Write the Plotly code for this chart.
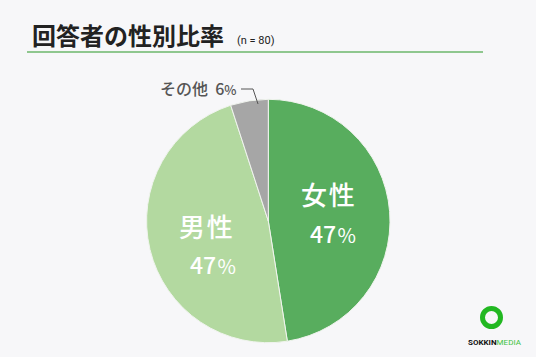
import plotly.graph_objects as go

# Data
categories = ["女性", "男性", "その他"]
counts = [38, 38, 4]
pct_labels = ["47", "47", "6"]
colors = ["#58ad5e", "#b3d9a0", "#a6a6a6"]

title_text = "回答者の性別比率"
n_text = "(n = 80)"

W, H = 536, 357
FONT = "Noto Sans CJK JP"

cx, cy, r = 268.3, 221.0, 121.7

def px(x):
    return x / W

def py(y):
    return 1 - y / H

fig = go.Figure()
fig.add_trace(go.Pie(
    labels=categories,
    values=counts,
    sort=False,
    direction="clockwise",
    rotation=0,
    marker=dict(colors=colors, line=dict(color="#f0f4ee", width=1)),
    textinfo="none",
    hoverinfo="label+percent",
    showlegend=False,
    domain=dict(x=[px(cx - r), px(cx + r)], y=[py(cy + r), py(cy - r)]),
))

annotations = []
# Title
annotations.append(dict(x=px(30), y=py(35), xref="paper", yref="paper", xanchor="left", yanchor="middle",
                        text=f"<b>{title_text}</b>", showarrow=False,
                        font=dict(family=FONT, size=24, color="#222222")))
annotations.append(dict(x=px(235), y=py(40), xref="paper", yref="paper", xanchor="left", yanchor="middle",
                        text=n_text, showarrow=False,
                        font=dict(family="Roboto", size=11, color="#222222")))

# Inside labels
inside = [
    (categories[0], pct_labels[0], 328, 193, 333, 233),
    (categories[1], pct_labels[1], 205.5, 225, 213, 264),
]
for name, pct, nx, ny, vx, vy in inside:
    annotations.append(dict(x=px(nx), y=py(ny), xref="paper", yref="paper", xanchor="center", yanchor="middle",
                            text=name.replace("", "\u200a").strip("\u200a"), showarrow=False,
                            font=dict(family=FONT, size=26, color="white", weight=500)))
    annotations.append(dict(x=px(vx), y=py(vy), xref="paper", yref="paper", xanchor="center", yanchor="middle",
                            text=f"{pct}<span style='font-size:20px;font-weight:400'>\u200a%</span>", showarrow=False,
                            font=dict(family=FONT, size=23, color="white", weight=500)))

# Outside label for その他
annotations.append(dict(x=px(239), y=py(88), xref="paper", yref="paper", xanchor="right", yanchor="middle",
                        text=f"{categories[2]}  {pct_labels[2]}<span style='font-size:13px'>%</span>", showarrow=False,
                        font=dict(family=FONT, size=16, color="#555555", weight=500)))

# Logo text
annotations.append(dict(x=px(495), y=py(342), xref="paper", yref="paper", xanchor="center", yanchor="middle",
                        text="<b>SOKKIN</b><span style='color:#3cc23c'>MEDIA</span>", showarrow=False,
                        font=dict(family="Roboto", size=8, color="#111111")))

shapes = [
    # title underline
    dict(type="line", xref="paper", yref="paper", x0=px(27), x1=px(483), y0=py(52), y1=py(52),
         line=dict(color="#8fc78f", width=2)),
    # leader line
    dict(type="path", xref="paper", yref="paper",
         path=f"M {px(241)} {py(89)} L {px(253)} {py(89)} L {px(258)} {py(104)}",
         line=dict(color="#555555", width=1)),
    # logo ring
    dict(type="circle", xref="paper", yref="paper",
         x0=px(482.5), x1=px(500.5), y0=py(326.5), y1=py(308.5),
         line=dict(color="#22b822", width=5)),
]

fig.update_layout(
    width=W, height=H, autosize=False,
    margin=dict(l=0, r=0, t=0, b=0),
    paper_bgcolor="#f7f7f9",
    plot_bgcolor="#f7f7f9",
    annotations=annotations,
    shapes=shapes,
)

fig.write_html("out.html", config={"displayModeBar": False},
               post_script="document.body.style.margin='0';document.body.style.background='#f7f7f9';")
